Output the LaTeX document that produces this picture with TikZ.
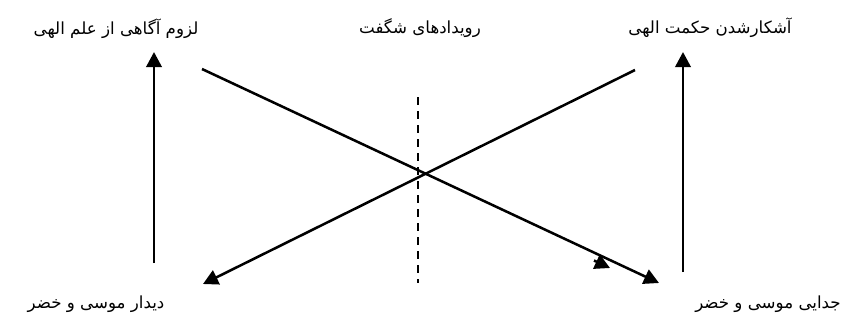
\documentclass[tikz,border=0pt]{standalone}
\usepackage{fontspec}
\usetikzlibrary{arrows.meta}
\TeXXeTstate=1
\newfontfamily\arabicfont[Script=Arabic]{DejaVu Sans}
\begin{document}
\begin{tikzpicture}[x=0.75pt,y=-0.75pt,
  lbl/.style={font=\arabicfont\fontsize{12.5}{14}\selectfont, inner sep=0pt, anchor=center},
  conn/.style={line width=1.9pt, -{Triangle[length=11.25pt,width=11.5pt]}},
  dashline/.style={line width=1.3pt, dash pattern=on 6pt off 4.5pt}]
\useasboundingbox (0,0) rectangle (851,322);
% texts
\node[lbl] (t1) at (116,29) {\beginR لزوم آگاهی از علم الهی\endR};
\node[lbl] (t2) at (420,28) {\beginR رویدادهای شگفت\endR};
\node[lbl] (t3) at (710,28) {\beginR آشکارشدن حکمت الهی\endR};
\node[lbl] (b1) at (96,304) {\beginR دیدار موسی و خضر\endR};
\node[lbl] (b2) at (768,304) {\beginR جدایی موسی و خضر\endR};
% coordinates
\coordinate (la) at (154,263);
\coordinate (lb) at (154,52);
\coordinate (ra) at (683,272);
\coordinate (rb) at (683,52);
\coordinate (xa) at (202,69);
\coordinate (xb) at (659,283);
\coordinate (xm1) at (594,260.5);
\coordinate (xm2) at (610,268);
\coordinate (ya) at (635,70);
\coordinate (yb) at (203,284);
\coordinate (da) at (418,97);
\coordinate (db) at (418,283);
% connectors
\draw[conn] (la) -- (lb);
\draw[conn] (ra) -- (rb);
\draw[conn] (xa) -- (xb);
\draw[conn] (xm1) -- (xm2);
\draw[conn] (ya) -- (yb);
\draw[dashline] (da) -- (db);
\end{tikzpicture}
\end{document}
